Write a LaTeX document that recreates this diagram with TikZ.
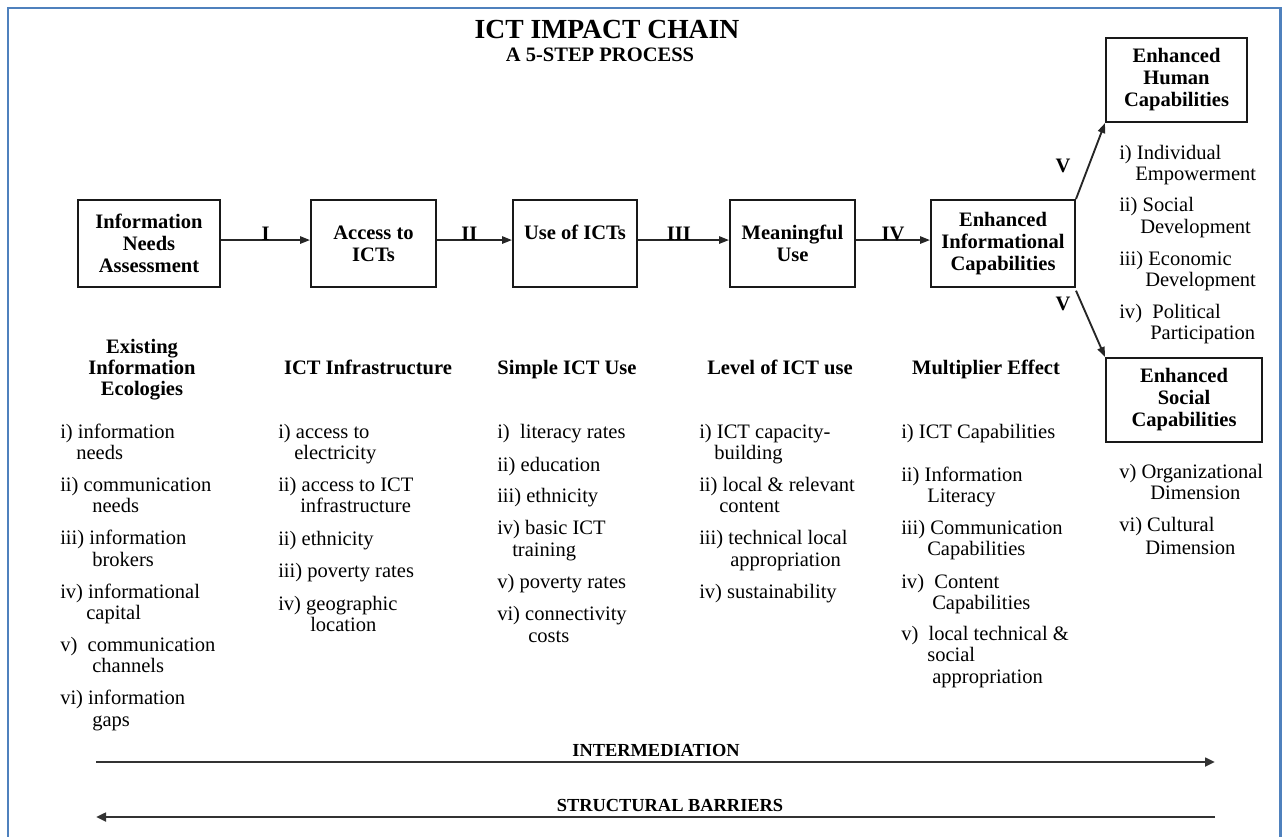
\documentclass[tikz,border=0pt]{standalone}
\usepackage{fontspec}
\setmainfont{Liberation Serif}
\usetikzlibrary{arrows.meta}
\definecolor{framec}{RGB}{79,129,189}
\begin{document}
\begin{tikzpicture}[x=0.75pt,y=-0.75pt,
  box/.style={draw=black!90, line width=1.5pt, inner sep=0pt, align=center,
    font=\bfseries\fontsize{15.4}{16.5}\selectfont},
  txt/.style={anchor=base west, inner sep=0pt, font=\fontsize{15.4}{15.75}\selectfont},
  head/.style={anchor=base, inner sep=0pt, font=\bfseries\fontsize{15.4}{15.75}\selectfont},
  roman/.style={anchor=base, inner sep=0pt, font=\bfseries\fontsize{15.4}{15.75}\selectfont},
  flow/.style={draw=black!85, line width=1.4pt, -{Triangle[length=7.5pt,width=5.5pt]}},
  band/.style={draw=black!80, line width=2pt, -{Triangle[length=7.5pt,width=6.5pt]}},
  bandlabel/.style={anchor=base, inner sep=0pt, font=\bfseries\fontsize{13.8}{14}\selectfont}]

\useasboundingbox (0,0) rectangle (1282,836);

% outer frame
\draw[framec, line width=1.6pt] (8,860) -- (8,8) -- (1280.5,8) -- (1280.5,860);

% title
\node[anchor=base, inner sep=0pt, font=\bfseries\fontsize{20.7}{22}\selectfont] (title) at (607,38) {ICT IMPACT CHAIN};
\node[anchor=base, inner sep=0pt, font=\bfseries\fontsize{15.4}{16}\selectfont] (subtitle) at (600,61) {A 5-STEP PROCESS};

% chain of steps
\node[box, line width=1.9pt, minimum width=106.5pt, minimum height=65.25pt] (b1) at (149,243.5) {Information\\Needs\\Assessment};
\node[box, minimum width=93.75pt, minimum height=65.25pt] (b2) at (373.5,243.5) {Access to\\ICTs};
\node[box, minimum width=93pt, minimum height=65.25pt] (b3) at (575,243.5) {Use of ICTs\\\mbox{}};
\node[box, minimum width=93.75pt, minimum height=65.25pt] (b4) at (792.5,243.5) {Meaningful\\Use};
\node[box, minimum width=108pt, minimum height=65.25pt] (b5) at (1003,243.5) {Enhanced\\Informational\\Capabilities};
\node[box, minimum width=105.75pt, minimum height=63pt] (human) at (1176.5,80) {Enhanced\\Human\\Capabilities};
\node[box, minimum width=117pt, minimum height=63pt] (social) at (1184,400) {Enhanced\\Social\\Capabilities};

\draw[flow] ([yshift=2.6pt]b1.east) -- node[roman, pos=0.5] {I} ([yshift=2.6pt]b2.west);
\draw[flow] ([yshift=2.6pt]b2.east) -- node[roman, pos=0.43] {II} ([yshift=2.6pt]b3.west);
\draw[flow] ([yshift=2.6pt]b3.east) -- node[roman, pos=0.45] {III} ([yshift=2.6pt]b4.west);
\draw[flow] ([yshift=2.6pt]b4.east) -- node[roman, pos=0.5] {IV} ([yshift=2.6pt]b5.west);
\draw[flow] (b5.north east) -- (human.south west);
\draw[flow] ([yshift=-2pt]b5.south east) -- (social.north west);
\node[roman] (v1) at (1063,172) {V};
\node[roman] (v2) at (1063,310) {V};

% column headings
\foreach \x/\y/\t [count=\k] in {
  142/353/Existing, 142/374/Information, 142/395/Ecologies,
  368/374/{ICT Infrastructure}, 567/374/{Simple ICT Use},
  780/374/{Level of ICT use}, 986/374/{Multiplier Effect}}
  \node[head] (h\k) at (\x,\y) {\t};

% column entries
\foreach \x/\y/\t [count=\k] in {
  60/432/{i) information}, 76/453/needs,
  60/485/{ii) communication}, 92/506/needs,
  60/538/{iii) information}, 92/560/brokers,
  60/592/{iv) informational}, 86/613/capital,
  60/645/{v)\ \ communication}, 92/666/channels,
  60/698/{vi) information}, 92/720/gaps,
  278/432/{i) access to}, 294/453/electricity,
  278/485/{ii) access to ICT}, 300/506/infrastructure,
  278/539/{ii) ethnicity},
  278/571/{iii) poverty rates},
  278/604/{iv) geographic}, 310/625/location,
  497/432/{i)\ \ literacy rates},
  497/465/{ii) education},
  497/496/{iii) ethnicity},
  497/528/{iv) basic ICT}, 512/550/training,
  497/582/{v) poverty rates},
  497/614/{vi) connectivity}, 528/636/costs,
  699/432/{i) ICT capacity-}, 714/453/building,
  699/485/{ii) local \& relevant}, 719/506/content,
  699/538/{iii) technical local}, 730/560/appropriation,
  699/592/{iv) sustainability},
  901/432/{i) ICT Capabilities},
  901/475/{ii) Information}, 927/496/Literacy,
  901/528/{iii) Communication}, 927/549/Capabilities,
  901/582/{iv)\ \ Content}, 932/603/Capabilities,
  901/634/{v)\ \ local technical \&}, 927/655/social, 932/677/appropriation,
  1119/153/{i) Individual}, 1135/174/Empowerment,
  1119/205/{ii) Social}, 1140/227/Development,
  1119/259/{iii) Economic}, 1145/280/Development,
  1119/312/{iv)\ \ Political}, 1150/333/Participation,
  1119/472/{v) Organizational}, 1150/493/Dimension,
  1119/525/{vi) Cultural}, 1145/548/Dimension}
  \node[txt] (c\k) at (\x,\y+6) {\t};

% intermediation and structural barriers
\coordinate (iL) at (96,762);
\coordinate (iR) at (1215,762);
\coordinate (sL) at (96,817);
\coordinate (sR) at (1215,817);
\draw[band] (iL) -- (iR);
\draw[band] (sR) -- (sL);
\node[bandlabel] (inter) at (656,756) {INTERMEDIATION};
\node[bandlabel] (barr) at (670,811) {STRUCTURAL BARRIERS};
\end{tikzpicture}
\end{document}
